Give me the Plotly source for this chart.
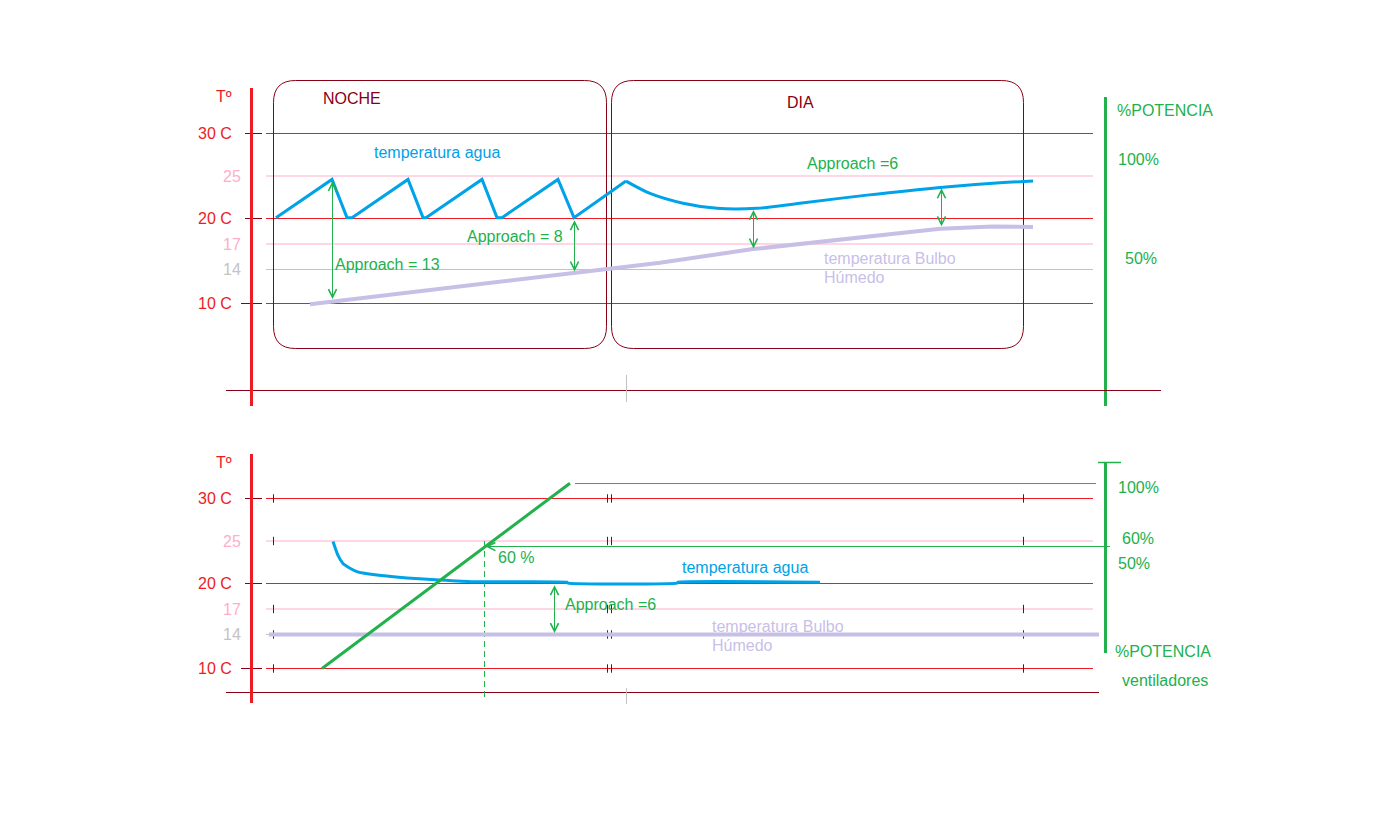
import plotly.graph_objects as go

W, H = 1398, 833
PX_PER_DEG = 8.5           # vertical scale of both temperature panels
PY10 = {"y": 303.5, "y2": 668.5}   # pixel row of the 10 C line in each panel

RED = "#ed1c24"
DARKRED = "#880015"
PINK = "#ffaec9"
GRAY = "#c3c3c3"
BLUE = "#00a2e8"
LAV = "#c8bfe7"
GREEN = "#22b14c"
FONT = "Liberation Sans, Arial, sans-serif"

# ---------------- data ----------------
levels = [30, 25, 20, 17, 14, 10]
level_labels = ["30 C", "25", "20 C", "17", "14", "10 C"]
level_colors = [RED, PINK, RED, PINK, GRAY, RED]

night_span = [273.5, 606.5]      # schematic time units
day_span = [611.5, 1023.5]

# top panel: water temperature (night: sawtooth, day: smooth curve)
saw_t = [276, 332, 347, 352, 408, 423, 426, 482, 497, 502, 558, 574, 626]
saw_T = [20.1, 24.6, 20.1, 20.1, 24.6, 20.1, 20.1, 24.6, 20.1, 20.1, 24.6, 20.1, 24.4]
day_t = [626, 650, 683, 717, 757, 800, 867, 940, 1000, 1033]
day_T = [24.4, 22.95, 21.8, 21.2, 21.2, 21.8, 22.75, 23.65, 24.2, 24.4]

# top panel: wet bulb temperature
wb_t = [310, 460, 573, 660, 753, 850, 940, 993, 1033]
wb_T = [9.9, 12.0, 13.6, 14.8, 16.4, 17.6, 18.8, 19.05, 19.0]

# top panel approach arrows: (t, water T, wet bulb T)
approach_top = [(332.5, 24.4, 10.35), (574.5, 19.8, 13.6), (753.5, 21.0, 16.3), (941.5, 23.55, 18.9)]

# bottom panel: water temperature with fans regulated
w2_t = [333, 338, 343, 350, 357, 373, 407, 440, 473, 567, 568, 677, 678, 820]
w2_T = [24.95, 23.3, 22.35, 21.8, 21.4, 21.05, 20.65, 20.4, 20.2, 20.15, 20.05, 20.05, 20.15, 20.15]
wb2_t = [269, 1099]
wb2_T = [14.0, 14.0]
fan_t = [322, 570]               # fan power ramp (drawn on temperature scale)
fan_T = [10.0, 31.8]
fan100_T = 31.76
fan60_T = 24.35
fan60_t = 484.5
approach_bottom = [(554.5, 19.8, 14.0)]


# ---------------- axes ----------------
def axis(yref, top_px, bot_px):
    py10 = PY10[yref]
    dom = [1 - bot_px / H, 1 - top_px / H]
    rng = [10 - (bot_px - py10) / PX_PER_DEG, 10 + (py10 - top_px) / PX_PER_DEG]
    return dom, rng


def ty(py, yref):
    """layout helper: screen row of a decoration -> temperature units of its panel"""
    return 10 + (PY10[yref] - py) / PX_PER_DEG


dom1, rng1 = axis("y", 60, 410)
dom2, rng2 = axis("y2", 440, 720)

fig = go.Figure()
shapes = []
ann = []


def seg(x0, x1, y0, y1, yref, color, width=1, dash="solid", layer="below"):
    shapes.append(dict(type="line", xref="x", yref=yref, x0=x0, x1=x1, y0=y0, y1=y1,
                       line=dict(color=color, width=width, dash=dash), layer=layer))


def text(x, py, s, yref, color, anchor="left", size=16, y=None):
    ann.append(dict(x=x, y=ty(py, yref) if y is None else y, xref="x", yref=yref, text=s,
                    showarrow=False, xanchor=anchor, yanchor="middle",
                    font=dict(family=FONT, size=size, color=color)))


def darrow(x, y0, y1, yref):
    ann.append(dict(x=x, y=y1, ax=x, ay=y0, xref="x", yref=yref, axref="x", ayref=yref,
                    text="", showarrow=True, arrowside="end+start",
                    arrowhead=5, startarrowhead=5, arrowsize=1.6, startarrowsize=1.6,
                    arrowwidth=1, arrowcolor=GREEN, standoff=0, startstandoff=0))


def rounded_box(x0, x1, y0, y1, yref, rx=22):
    ry = rx / PX_PER_DEG
    p = (f"M{x0+rx},{y1} L{x1-rx},{y1} Q{x1},{y1} {x1},{y1-ry} L{x1},{y0+ry} "
         f"Q{x1},{y0} {x1-rx},{y0} L{x0+rx},{y0} Q{x0},{y0} {x0},{y0+ry} "
         f"L{x0},{y1-ry} Q{x0},{y1} {x0+rx},{y1} Z")
    shapes.append(dict(type="path", xref="x", yref=yref, path=p,
                       line=dict(color=DARKRED, width=1), layer="below"))


for yref in ["y", "y2"]:
    for lv, lab, col in zip(levels, level_labels, level_colors):
        seg(266, 1093, lv, lv, yref, col, 1)
        right = 234 if lab.endswith("C") else 243
        text(right, None, lab, yref, col, anchor="right", y=lv)
    for lv in [30, 20]:
        seg(245, 262, lv, lv, yref, DARKRED, 1)
    seg(241, 262, 10, 10, yref, DARKRED, 1)
    text(234, 97 if yref == "y" else 462, "Tº", yref, RED, anchor="right")

# ---- top panel frame ----
seg(251.5, 251.5, ty(88, "y"), ty(406, "y"), "y", RED, 3, layer="above")
seg(1105.5, 1105.5, ty(97, "y"), ty(406, "y"), "y", GREEN, 3)
seg(226, 1161, ty(390.5, "y"), ty(390.5, "y"), "y", DARKRED, 1)
seg(626.5, 626.5, ty(375, "y"), ty(402, "y"), "y", GRAY, 1)
for span in (night_span, day_span):
    rounded_box(span[0], span[1], ty(348.5, "y"), ty(80.5, "y"), "y")

text(321, 99, "NOCHE", "y", DARKRED)
text(800, 103, "DIA", "y", DARKRED, anchor="center")
text(1115, 111, "%POTENCIA", "y", GREEN)
text(1116, 159, "100%", "y", GREEN)
text(1123, 258, "50%", "y", GREEN)
text(372, 152.5, "temperatura agua", "y", BLUE)
text(805, 163, "Approach =6", "y", GREEN)
text(465, 236, "Approach = 8", "y", GREEN)
text(333, 264, "Approach = 13", "y", GREEN)
text(822, 258, "temperatura Bulbo", "y", LAV)
text(822, 277, "Húmedo", "y", LAV)

fig.add_trace(go.Scatter(x=wb_t, y=wb_T, mode="lines", yaxis="y",
                         line=dict(color=LAV, width=4), hoverinfo="skip"))
fig.add_trace(go.Scatter(x=saw_t, y=saw_T, mode="lines", yaxis="y",
                         line=dict(color=BLUE, width=3), hoverinfo="skip"))
fig.add_trace(go.Scatter(x=day_t, y=day_T, mode="lines", yaxis="y",
                         line=dict(color=BLUE, width=3, shape="spline", smoothing=0.8),
                         hoverinfo="skip"))
for t, tw, tb in approach_top:
    darrow(t, tb, tw, "y")

# ---- bottom panel frame ----
seg(251.5, 251.5, ty(454, "y2"), ty(703, "y2"), "y2", RED, 3, layer="above")
seg(1105.5, 1105.5, ty(462, "y2"), ty(653, "y2"), "y2", GREEN, 3)
seg(1098, 1121, ty(462.5, "y2"), ty(462.5, "y2"), "y2", GREEN, 1.5)
seg(226, 1099, ty(692.5, "y2"), ty(692.5, "y2"), "y2", DARKRED, 1)
seg(626.5, 626.5, ty(688, "y2"), ty(704, "y2"), "y2", GRAY, 1)
seg(575, 1096, fan100_T, fan100_T, "y2", GREEN, 1)
seg(fan60_t, 1110, fan60_T, fan60_T, "y2", GREEN, 1)
seg(fan60_t, fan60_t, ty(697, "y2"), ty(540, "y2"), "y2", GREEN, 1, dash="6px,4px")

tick_t = [273.5, 607.5, 611.5, 1023.5]
for lv in [30, 25, 17, 14, 10]:
    fig.add_trace(go.Scatter(x=tick_t, y=[lv] * len(tick_t), mode="markers", yaxis="y2",
                             marker=dict(symbol="line-ns", size=6,
                                         line=dict(color=DARKRED, width=1)),
                             hoverinfo="skip"))

fig.add_trace(go.Scatter(x=wb2_t, y=wb2_T, mode="lines", yaxis="y2",
                         line=dict(color=LAV, width=4), hoverinfo="skip"))
fig.add_trace(go.Scatter(x=w2_t, y=w2_T, mode="lines", yaxis="y2",
                         line=dict(color=BLUE, width=3, shape="spline", smoothing=0.5),
                         hoverinfo="skip"))
fig.add_trace(go.Scatter(x=fan_t, y=fan_T, mode="lines", yaxis="y2",
                         line=dict(color=GREEN, width=3), hoverinfo="skip"))
ann.append(dict(x=fan60_t + 1, y=fan60_T, ax=fan60_t + 14, ay=fan60_T, xref="x", yref="y2",
                axref="x", ayref="y2", text="", showarrow=True, arrowhead=5,
                arrowsize=1.6, arrowwidth=1, arrowcolor=GREEN, standoff=0))
for t, tw, tb in approach_bottom:
    darrow(t, tb, tw, "y2")

text(496, 557, "60 %", "y2", GREEN)
text(680, 567, "temperatura agua", "y2", BLUE)
text(563, 604, "Approach =6", "y2", GREEN)
text(710, 626, "temperatura Bulbo", "y2", LAV)
text(710, 645, "Húmedo", "y2", LAV)
text(1116, 487, "100%", "y2", GREEN)
text(1120, 538, "60%", "y2", GREEN)
text(1116, 563, "50%", "y2", GREEN)
text(1113, 651, "%POTENCIA", "y2", GREEN)
text(1120, 680, "ventiladores", "y2", GREEN)

hidden = dict(visible=False, showgrid=False, zeroline=False, fixedrange=True)
fig.update_layout(
    width=W, height=H, margin=dict(l=0, r=0, t=0, b=0, pad=0),
    paper_bgcolor="white", plot_bgcolor="white", showlegend=False,
    xaxis=dict(range=[0, W], domain=[0, 1], anchor="y", **hidden),
    yaxis=dict(range=rng1, domain=dom1, anchor="x", **hidden),
    yaxis2=dict(range=rng2, domain=dom2, anchor="x", **hidden),
    shapes=shapes, annotations=ann,
)
fig.write_html("out.html")
